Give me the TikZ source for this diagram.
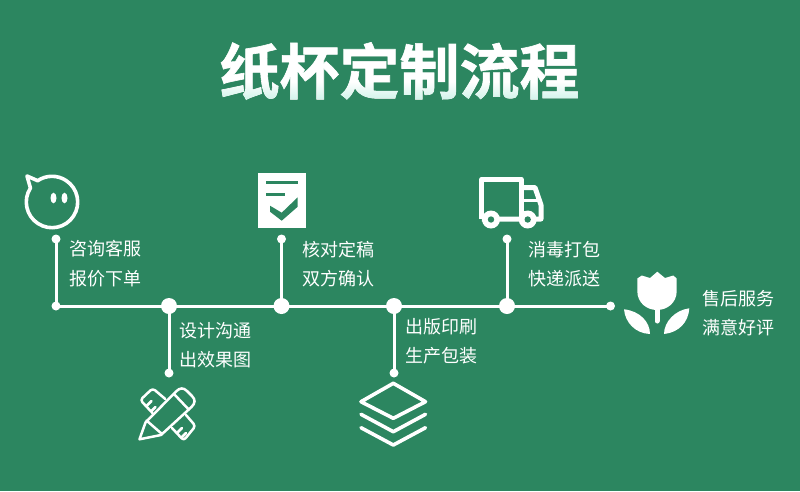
\documentclass[tikz,border=0pt]{standalone}
\usepackage{fontspec}
\setmainfont{Noto Sans CJK SC}
\newfontfamily\titlefont[FakeBold=1]{Noto Sans CJK SC Bold}
\definecolor{bg}{RGB}{44,134,96}
\definecolor{mint}{RGB}{200,241,230}
\tikzset{
  x=1pt,y=-1pt,
  line/.style={draw=white,line width=3pt},
  bigdot/.style={circle,fill=white,inner sep=0pt,minimum size=16pt},
  smalldot/.style={circle,fill=white,inner sep=0pt,minimum size=9pt},
  label/.style={text=white,font=\fontsize{18}{30}\selectfont,anchor=west,align=left,inner sep=0pt,text height=13pt,text depth=3pt},
  icon/.style={draw=white,line width=3.6pt,line join=round,line cap=round},
  iconthin/.style={draw=white,line width=2.5pt,line join=round,line cap=round},
  truckline/.style={draw=white,line width=5pt,line join=round},
  gline/.style={draw=bg,line width=3.2pt}
}
\begin{document}
\begin{tikzpicture}
\fill[bg] (0,0) rectangle (800,491);
\useasboundingbox (0,0) rectangle (800,491);
% title
\node[text=white,inner sep=0pt,font=\titlefont\fontsize{60}{60}\selectfont] (title) at (399.5,71) {纸杯定制流程};
\begin{scope}[blend mode=darken]
\shade[top color=white,bottom color=mint,middle color=white] (210,60) rectangle (590,103);
\end{scope}
% timeline dots
\node[smalldot] (a0) at (56,306) {};
\node[smalldot] (a1) at (56,239) {};
\node[bigdot] (b0) at (169,306) {};
\node[smalldot] (b1) at (169,373) {};
\node[bigdot] (c0) at (281.5,306) {};
\node[smalldot] (c1) at (281.5,239) {};
\node[bigdot] (d0) at (394,306) {};
\node[smalldot] (d1) at (394,373) {};
\node[bigdot] (e0) at (507,306) {};
\node[smalldot] (e1) at (507,239) {};
\node[smalldot] (f0) at (610.5,306) {};
\draw[line] (a0.center) -- (f0.center);
\draw[line] (a0.center) -- (a1.center);
\draw[line] (b0.center) -- (b1.center);
\draw[line] (c0.center) -- (c1.center);
\draw[line] (d0.center) -- (d1.center);
\draw[line] (e0.center) -- (e1.center);
% labels
\node[label] (l1a) at (69.5,250) {咨询客服};
\node[label] (l1b) at (69.5,280) {报价下单};
\node[label] (l2a) at (179.5,332) {设计沟通};
\node[label] (l2b) at (179.5,361) {出效果图};
\node[label] (l3a) at (302.5,251) {核对定稿};
\node[label] (l3b) at (302.5,280) {双方确认};
\node[label] (l4a) at (405.5,328) {出版印刷};
\node[label] (l4b) at (405.5,357) {生产包装};
\node[label] (l5a) at (528.5,251) {消毒打包};
\node[label] (l5b) at (528.5,280) {快递派送};
\node[label] (l6a) at (702.5,300) {售后服务};
\node[label] (l6b) at (702.5,329) {满意好评};
% face icon
\draw[icon] (52,202) ++(213:25.7) arc[start angle=213,end angle=-124,radius=25.7] -- (27,176) -- cycle;
\fill[white] (53.5,198) ellipse[x radius=3,y radius=5.3];
\fill[white] (64.5,198) ellipse[x radius=3,y radius=5.3];
% pencil and ruler icon
\draw[iconthin] (139.5,439.3) -- (145.5,422.5) -- (176,391.5) .. controls (180,387.5) and (183.5,387.5) .. (187,391) -- (192,396) .. controls (195.5,399.5) and (195.5,403) .. (191.5,407) -- (161,435) -- cycle;
\draw[iconthin] (146.5,420.5) -- (162,434);
\draw[iconthin] (174,394) -- (188.7,409.5);
\draw[iconthin,rounded corners=3pt] (152.5,413) -- (140.3,400) -- (152.7,388.3) -- (165.3,399);
\draw[iconthin] (146.5,406) -- (151.5,401);
\draw[iconthin] (151.5,411) -- (155.5,407);
\draw[iconthin,rounded corners=3pt] (172,428) -- (183.7,440.5) -- (195.5,426) -- (186,415);
\draw[iconthin] (177,433) -- (182,428);
\draw[iconthin] (182,437) -- (186,433);
% clipboard icon
\fill[white] (258.3,173.3) rectangle (305.7,228.3);
\draw[gline] (266,182.7) -- (297.5,182.7);
\draw[gline] (266,194.3) -- (285,194.3);
\fill[bg] (270,205.7) -- (281.7,212.7) -- (297.7,197.3) -- (297.7,206.7) -- (281.7,220.7) -- (270,211.7) -- cycle;
% truck icon
\draw[truckline] (481.8,219) -- (481.8,179.2) -- (521,179.2) -- (521,219);
\draw[truckline] (521,187.5) -- (535,187.5) -- (541,205) -- (541,219) -- (481.8,219);
\draw[draw=white,line width=3.5pt] (521,200.7) -- (540,200.7);
\fill[white] (491,219.5) circle[radius=9];
\fill[white] (527.7,219.5) circle[radius=9];
\fill[bg] (491,219.5) circle[radius=3.2];
\fill[bg] (527.7,219.5) circle[radius=3.2];
% stack icon
\draw[icon] (393.3,383.3) -- (425.5,401.7) -- (393.3,418.3) -- (361,401.7) -- cycle;
\draw[icon] (361,414.3) -- (393.3,431.7) -- (425.5,414.3);
\draw[icon] (361,427.7) -- (393.3,445) -- (425.5,427.7);
% tulip icon
\fill[white] (637.3,278.5) -- (641.7,275.5) -- (650,278) -- (657.3,271.7) -- (665,278) -- (673.3,275.5) -- (676.7,278.5) -- (676.7,291) .. controls (676.7,303) and (667,310) .. (657,310) .. controls (647,310) and (637.3,303) .. (637.3,291) -- cycle;
\draw[draw=white,line width=5pt,line cap=round] (657,308) -- (657,321);
\fill[white] (624,309.3) .. controls (640,311) and (650,322) .. (650,334) .. controls (635,333.5) and (625,322) .. (624,309.3) -- cycle;
\fill[white] (689.3,308.3) .. controls (675,310) and (664,322) .. (664,334) .. controls (679,332.5) and (688.5,322) .. (689.3,308.3) -- cycle;
\end{tikzpicture}
\end{document}
